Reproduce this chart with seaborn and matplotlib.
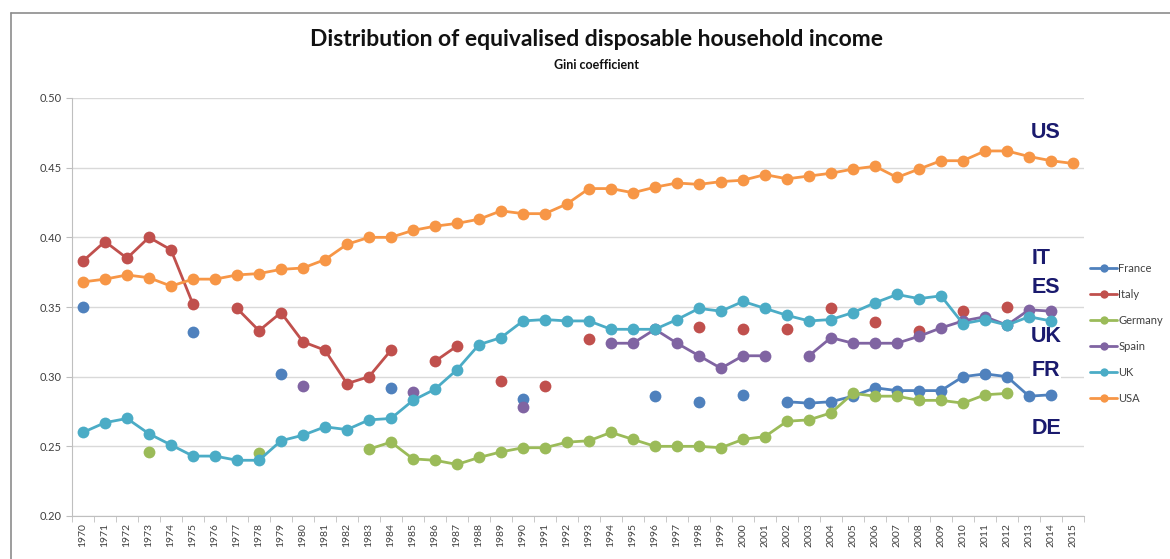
import pandas as pd
import matplotlib.pyplot as plt
import seaborn as sns
from matplotlib.lines import Line2D

# --- data (Gini coefficient) ---
countries = ["France", "Italy", "Germany", "Spain", "UK", "USA"]
colors = ["#4F81BD", "#C0504D", "#9BBB59", "#8064A2", "#4BACC6", "#F79646"]

france_years = [1970, 1975, 1979, 1984, 1990, 1996, 1998, 2000, 2002, 2003, 2004,
                2005, 2006, 2007, 2008, 2009, 2010, 2011, 2012, 2013, 2014]
france_gini = [0.350, 0.332, 0.302, 0.292, 0.284, 0.286, 0.282, 0.287, 0.282, 0.281, 0.282,
               0.286, 0.292, 0.290, 0.290, 0.290, 0.300, 0.302, 0.300, 0.286, 0.287]

italy_years = [1970, 1971, 1972, 1973, 1974, 1975, 1977, 1978, 1979, 1980, 1981, 1982, 1983,
               1984, 1986, 1987, 1989, 1991, 1993, 1998, 2000, 2002, 2004, 2006, 2008, 2010, 2012]
italy_gini = [0.383, 0.397, 0.385, 0.400, 0.391, 0.352, 0.349, 0.333, 0.346, 0.325, 0.319, 0.295, 0.300,
              0.319, 0.311, 0.322, 0.297, 0.293, 0.327, 0.336, 0.334, 0.334, 0.349, 0.339, 0.333, 0.347, 0.350]

germany_years = [1973, 1978] + list(range(1983, 2013))
germany_gini = [0.246, 0.245,
                0.248, 0.253, 0.241, 0.240, 0.237, 0.242, 0.246, 0.249, 0.249, 0.253,
                0.254, 0.260, 0.255, 0.250, 0.250, 0.250, 0.249, 0.255, 0.257, 0.268,
                0.269, 0.274, 0.288, 0.286, 0.286, 0.283, 0.283, 0.281, 0.287, 0.288]

spain_years = [1980, 1985, 1990, 1994, 1995, 1996, 1997, 1998, 1999, 2000, 2001,
               2003, 2004, 2005, 2006, 2007, 2008, 2009, 2010, 2011, 2012, 2013, 2014]
spain_gini = [0.293, 0.289, 0.278, 0.324, 0.324, 0.334, 0.324, 0.315, 0.306, 0.315, 0.315,
              0.315, 0.328, 0.324, 0.324, 0.324, 0.329, 0.335, 0.340, 0.343, 0.337, 0.348, 0.347]

uk_years = list(range(1970, 2015))
uk_gini = [0.260, 0.267, 0.270, 0.259, 0.251, 0.243, 0.243, 0.240, 0.240, 0.254,
           0.258, 0.264, 0.262, 0.269, 0.270, 0.283, 0.291, 0.305, 0.323, 0.328,
           0.340, 0.341, 0.340, 0.340, 0.334, 0.334, 0.334, 0.341, 0.349, 0.347,
           0.354, 0.349, 0.344, 0.340, 0.341, 0.346, 0.353, 0.359, 0.356, 0.358,
           0.338, 0.341, 0.337, 0.343, 0.340]

usa_years = list(range(1970, 2016))
usa_gini = [0.368, 0.370, 0.373, 0.371, 0.365, 0.370, 0.370, 0.373, 0.374, 0.377,
            0.378, 0.384, 0.395, 0.400, 0.400, 0.405, 0.408, 0.410, 0.413, 0.419,
            0.417, 0.417, 0.424, 0.435, 0.435, 0.432, 0.436, 0.439, 0.438, 0.440,
            0.441, 0.445, 0.442, 0.444, 0.446, 0.449, 0.451, 0.443, 0.449, 0.455,
            0.455, 0.462, 0.462, 0.458, 0.455, 0.453]

# country tags drawn at the right end of the chart
tag_text = ["US", "IT", "ES", "UK", "FR", "DE"]
tag_y = [0.475, 0.3845, 0.3643, 0.3285, 0.3047, 0.2631]

# --- long format, with a segment id so gaps in the series stay gaps ---
series = [france_years, italy_years, germany_years, spain_years, uk_years, usa_years]
values = [france_gini, italy_gini, germany_gini, spain_gini, uk_gini, usa_gini]
rows = []
for name, yrs, vals in zip(countries, series, values):
    seg = 0
    for i, (yr, v) in enumerate(zip(yrs, vals)):
        if i > 0 and yr != yrs[i - 1] + 1:
            seg += 1
        rows.append({"country": name, "year": yr, "gini": v, "unit": f"{name}_{seg}"})
df = pd.DataFrame(rows)

sns.set_style("white")
plt.rcParams["font.family"] = ["Lato", "DejaVu Sans"]

fig = plt.figure(figsize=(11.7, 5.59), dpi=100)
ax = fig.add_axes([72 / 1170, 1 - 516 / 559, 1012 / 1170, 418 / 559])

sns.lineplot(data=df, x="year", y="gini", hue="country", hue_order=countries,
             palette=colors, units="unit", estimator=None, sort=False,
             marker="o", markersize=8.5, markeredgewidth=0, linewidth=2,
             legend=False, ax=ax)

# axes styling, Excel-like
ax.set_xlim(1969.5, 2015.5)
ax.set_ylim(0.20, 0.50)
ax.set_yticks([0.20, 0.25, 0.30, 0.35, 0.40, 0.45, 0.50])
ax.set_yticklabels([f"{t:.2f}" for t in ax.get_yticks()], fontsize=8, color="#404040")
years = list(range(1970, 2016))
ax.set_xticks(years)
ax.set_xticklabels([str(y) for y in years], rotation=90, fontsize=7.5, color="#404040")
ax.set_xticks([y - 0.5 for y in years] + [2015.5], minor=True)
ax.tick_params(axis="x", which="major", length=0, pad=5)
ax.tick_params(axis="x", which="minor", length=4, color="#BFBFBF", bottom=True)
ax.tick_params(axis="y", length=4, color="#BFBFBF", left=True)
ax.grid(axis="y", color="#D9D9D9", linewidth=1)
ax.grid(axis="x", visible=False)
ax.set_axisbelow(True)
for side in ["top", "right"]:
    ax.spines[side].set_visible(False)
for side in ["left", "bottom"]:
    ax.spines[side].set_color("#BFBFBF")
ax.set_xlabel("")
ax.set_ylabel("")

# country tags
for txt, yv in zip(tag_text, tag_y):
    box = dict(facecolor="white", edgecolor="none", pad=1) if txt == "FR" else None
    ax.text(2013.1, yv, txt, ha="left", va="center", fontsize=15.5, fontweight="bold",
            color="#1A1A6E", family=["Liberation Sans", "DejaVu Sans"], bbox=box,
            zorder=6, clip_on=False)

# titles
fig.text(597 / 1170, 1 - 40 / 559, "Distribution of equivalised disposable household income",
         ha="center", va="center", fontsize=16.5, fontweight="bold", color="#111111")
fig.text(597 / 1170, 1 - 65 / 559, "Gini coefficient",
         ha="center", va="center", fontsize=9, fontweight="bold", color="#111111")

# legend
handles = [Line2D([0], [0], color=c, lw=2, marker="o", markersize=6, markeredgewidth=0)
           for c in colors]
fig.legend(handles, countries, loc="center left", bbox_to_anchor=(1086 / 1170, 1 - 333 / 559),
           frameon=False, fontsize=8, labelcolor="#404040", handlelength=2.4,
           handletextpad=0.1, labelspacing=1.35, borderaxespad=0)

# chart frame (only top and left edges are inside the picture)
frame_top = 1 - 13 / 559
frame_left = 11 / 1170
fig.add_artist(Line2D([frame_left, 1.0], [frame_top, frame_top], transform=fig.transFigure,
                      color="#8C8C8C", linewidth=1.2))
fig.add_artist(Line2D([frame_left, frame_left], [0.0, frame_top], transform=fig.transFigure,
                      color="#8C8C8C", linewidth=1.2))

fig.savefig("out.png", dpi=100)
